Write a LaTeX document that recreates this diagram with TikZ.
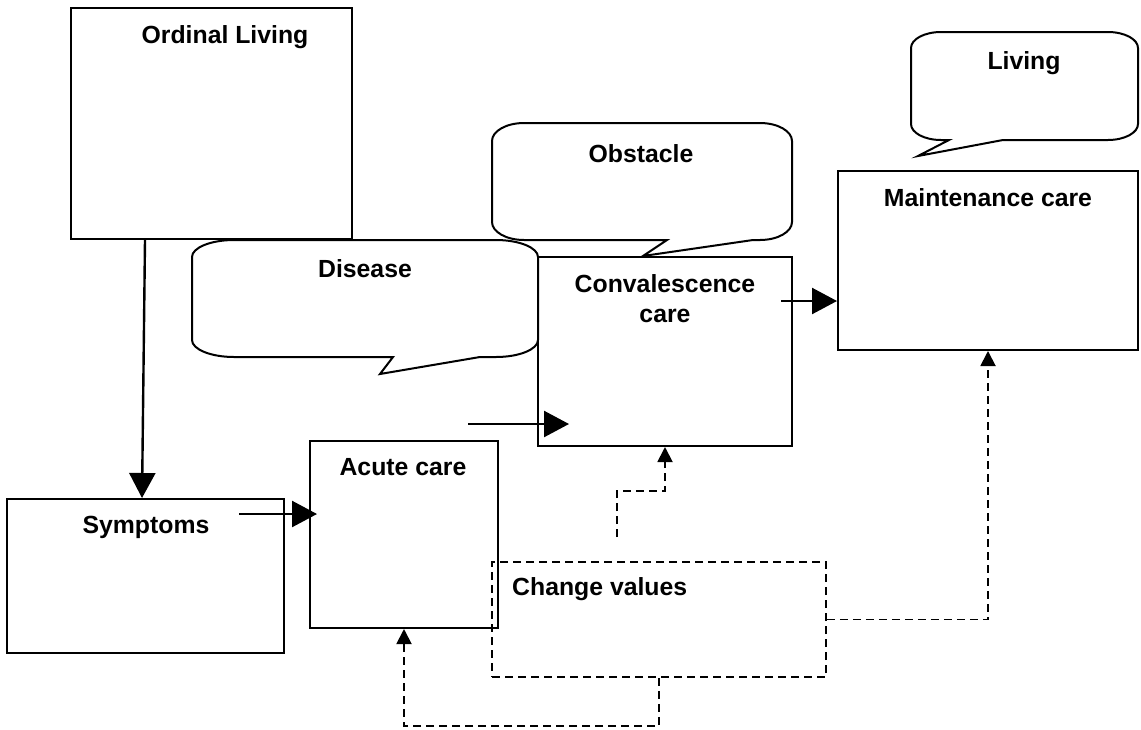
\documentclass[tikz,border=0pt]{standalone}
\usepackage{fontspec}
\setmainfont{Liberation Sans}
\usetikzlibrary{arrows.meta,calc}
\begin{document}
\begin{tikzpicture}[x=1pt,y=-1pt,
  bx/.style={draw, line width=2pt, inner sep=0pt},
  dbx/.style={draw, line width=1.9pt, dash pattern=on 8pt off 5pt, inner sep=0pt},
  lbl/.style={anchor=base, font=\fontsize{24.8}{30}\selectfont\bfseries, inner sep=0pt},
  arr/.style={line width=2.4pt, -{Triangle[length=25pt,width=26pt]}},
  darr/.style={line width=1.9pt, dash pattern=on 8pt off 5pt, -{Triangle[length=15pt,width=15pt]}},
  balloon/.style={line width=2pt, line join=miter}
]
\useasboundingbox (0,0) rectangle (1141,729);

% plain boxes
\node[bx, minimum width=281pt, minimum height=231pt] (ordinal)  at (211.5,123.5) {};
\node[bx, minimum width=277pt, minimum height=154pt] (symptoms) at (145.5,576) {};
\node[bx, minimum width=188pt, minimum height=187pt] (acute)    at (404,534.5) {};
\node[bx, minimum width=254pt, minimum height=189pt] (conval)   at (665,351.5) {};
\node[bx, minimum width=300pt, minimum height=179pt] (maint)    at (988,260.5) {};
\node[dbx, minimum width=334pt, minimum height=115pt] (change)  at (659,619.5) {};

% speech balloons
\draw[balloon] (234,240) -- (496,240) .. controls (519,240) and (538,247.6) .. (538,257)
  -- (538,340) .. controls (538,349.4) and (519,357) .. (496,357)
  -- (480,357) -- (380,374) -- (393,357)
  -- (234,357) .. controls (211,357) and (192,349.4) .. (192,340)
  -- (192,257) .. controls (192,247.6) and (211,240) .. (234,240) -- cycle;
\draw[balloon] (524,123) -- (760,123) .. controls (777.7,123) and (792,131.1) .. (792,141)
  -- (792,222) .. controls (792,231.9) and (777.7,240) .. (760,240)
  -- (753,240) -- (643,256) -- (667,240)
  -- (524,240) .. controls (506.3,240) and (492,231.9) .. (492,222)
  -- (492,141) .. controls (492,131.1) and (506.3,123) .. (524,123) -- cycle;
\draw[balloon] (941,32) -- (1108,32) .. controls (1124.6,32) and (1138,39.2) .. (1138,48)
  -- (1138,124) .. controls (1138,132.8) and (1124.6,140) .. (1108,140)
  -- (1003,140) -- (918,156) -- (949,140)
  -- (941,140) .. controls (924.4,140) and (911,132.8) .. (911,124)
  -- (911,48) .. controls (911,39.2) and (924.4,32) .. (941,32) -- cycle;

% labels
\node[lbl] (tOrdinal)  at (225,43)   {Ordinal Living};
\node[lbl] (disease)   at (365,277)  {Disease};
\node[lbl] (obstacle)  at (641,162)  {Obstacle};
\node[lbl] (living)    at (1024,69)  {Living};
\node[lbl] (tMaint)    at (988,206)  {Maintenance care};
\node[lbl] (tConval)   at (665,292)  {Convalescence};
\node[lbl] (tConval2)  at (665,322)  {care};
\node[lbl] (tAcute)    at (403,475)  {Acute care};
\node[lbl] (tSymptoms) at (146,533)  {Symptoms};
\node[lbl, anchor=base west] (tChange) at (512,595) {Change values};

% solid arrows
\draw[arr] ($(ordinal.south west)+(75,0)$) -- ($(symptoms.north west)+(136,0)$);
\draw[arr] ($(symptoms.north east)+(-46,16)$) -- ($(acute.north west)+(8,74)$);
\draw[arr] ($(conval.south west)+(-69,-23)$) -- ($(conval.south west)+(32,-23)$);
\draw[arr] ($(conval.north east)+(-12,45)$) -- ($(maint.north west)+(0,131)$);

% dashed feedback arrows
\draw[darr] ($(change.north west)+(126,-24)$) -- ++(0,-46) -| (conval.south);
\draw[darr] (change.east) -| (maint.south);
\draw[darr] (change.south) -- ++(0,48) -| (acute.south);
\end{tikzpicture}
\end{document}
